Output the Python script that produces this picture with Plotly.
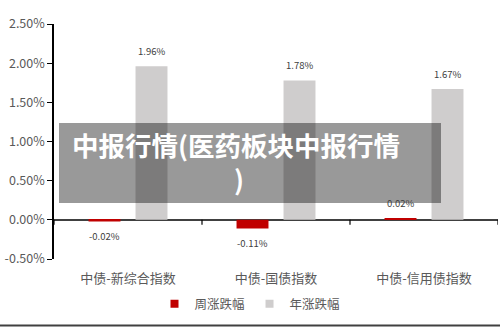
import plotly.graph_objects as go

categories = ["中债-新综合指数", "中债-国债指数", "中债-信用债指数"]
weekly = [-0.02, -0.11, 0.02]
yearly = [1.96, 1.78, 1.67]
series_names = ["周涨跌幅", "年涨跌幅"]
series_colors = ["#C00000", "#CFCDCD"]
y_ticks = [-0.5, 0, 0.5, 1.0, 1.5, 2.0, 2.5]
overlay_text = "中报行情(医药板块中报行情 <br>)"

W, H = 500, 327
L, R, T, B = 54, 2, 24, 68
pw, ph = W - L - R, H - T - B

def px_x(p):
    return (p - L) / pw

def px_y(p):
    return (H - B - p) / ph

font = "Noto Sans CJK SC, Noto Sans, sans-serif"
fig = go.Figure()
for name, vals, col in zip(series_names, (weekly, yearly), series_colors):
    fig.add_trace(go.Bar(x=categories, y=vals, name=name, showlegend=False,
                         marker=dict(color=col, line=dict(width=0))))
for name, col in zip(series_names, series_colors):
    fig.add_trace(go.Scatter(x=[None], y=[None], mode="markers", name=name,
                             marker=dict(symbol="square", size=8, color=col)))

anns = []
for i, c in enumerate(categories):
    for vals, xs in ((weekly, -23.5), (yearly, 23.5)):
        v = vals[i]
        anns.append(dict(x=c, y=v, xref="x", yref="y", xshift=xs,
                         yshift=15 if v >= 0 else -15,
                         text=f"{v:.2f}%", showarrow=False,
                         font=dict(size=9.5, color="#404040", family=font)))

anns.append(dict(x=px_x(239), y=px_y(161), xref="paper", yref="paper",
                 text="<b>" + overlay_text + "</b>", showarrow=False, align="center",
                 font=dict(size=26.5, color="white", family=font)))

shapes = []
for i in range(len(categories) + 1):
    shapes.append(dict(type="line", xref="x", yref="y", x0=i - 0.5, x1=i - 0.5,
                       ysizemode="pixel", yanchor=0, y0=0, y1=-5,
                       line=dict(color="#000000", width=1.2)))
shapes.append(dict(type="rect", xref="paper", yref="paper",
                   x0=px_x(59), x1=px_x(441), y0=px_y(203), y1=px_y(123),
                   fillcolor="rgba(0,0,0,0.4)", line=dict(width=0), layer="above"))
shapes.append(dict(type="line", xref="paper", yref="paper",
                   x0=px_x(0), x1=px_x(500), y0=px_y(325.5), y1=px_y(325.5),
                   line=dict(color="#404040", width=2)))

fig.update_layout(
    width=W, height=H,
    margin=dict(l=L, r=R, t=T, b=B),
    paper_bgcolor="white", plot_bgcolor="white",
    barmode="group", bargap=0.365, bargroupgap=0.32,
    showlegend=True,
    legend=dict(orientation="h", x=px_x(250), xanchor="center", y=px_y(304), yanchor="middle",
                font=dict(size=12.5, color="#595959", family=font),
                itemwidth=30, tracegroupgap=0),
    font=dict(family=font, color="#595959"),
    xaxis=dict(showline=False, ticks="", showgrid=False, zeroline=False,
               tickfont=dict(size=13, color="#595959", family=font),
               ticklabelstandoff=10, range=[-0.5, 2.5]),
    yaxis=dict(range=[-0.5, 2.5], tickvals=y_ticks,
               ticktext=[f"{v:.2f}%" for v in y_ticks],
               showline=True, linecolor="#000000", linewidth=1.5,
               ticks="outside", ticklen=5, tickcolor="#000000",
               showgrid=False, zeroline=True, zerolinecolor="#404040", zerolinewidth=1.5,
               tickfont=dict(size=12.5, color="#595959", family=font)),
    annotations=anns, shapes=shapes,
)
fig.write_html("out.html")
